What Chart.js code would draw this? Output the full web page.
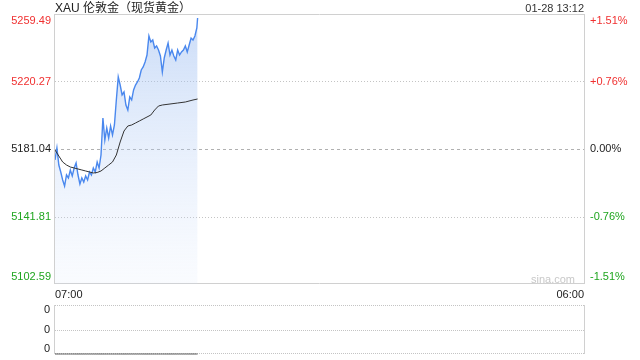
<!DOCTYPE html>
<html><head><meta charset="utf-8">
<script src="https://cdn.jsdelivr.net/npm/chart.js@4/dist/chart.umd.min.js"></script>
<style>
html,body{margin:0;padding:0;background:#fff;width:640px;height:360px;overflow:hidden;font-family:"Liberation Sans",Arial,"Noto Sans CJK SC",sans-serif;}
#wrap{position:relative;width:640px;height:360px;}
#main{position:absolute;left:0;top:0;}
#vol{position:absolute;left:0;top:300px;}
.txt{position:absolute;white-space:nowrap;}
</style></head><body>
<div id="wrap">
<canvas id="main" width="640" height="300"></canvas>
<canvas id="vol" width="640" height="60"></canvas>
<div class="txt" id="title" style="left:55px;top:1px;font-size:12px;line-height:14px;color:#222">XAU 伦敦金（现货黄金）</div>
<div class="txt" id="stamp" style="right:56px;top:1px;font-size:11px;line-height:14px;color:#333">01-28 13:12</div>
<div class="txt" id="wm" style="left:531px;top:273px;font-size:11px;line-height:12px;color:#c8c8c8">sina.com</div>
</div>
<script>
// ---- data (minutes since 07:00) ----
const times = [0,5,10,15,20,25,30,35,40,45,50,55,60,65,70,75,80,85,90,95,100,105,110,115,120,125,130,135,140,145,150,155,160,165,170,175,180,185,190,195,200,205,210,215,220,225,230,235,240,245,250,255,260,265,270,275,280,285,290,295,300,305,310,315,320,325,330,335,340,345,350,355,360,365,370,372];
const prices = [5174.65,5181.62,5171.74,5167.68,5163.03,5159.54,5165.93,5164.19,5168.84,5165.35,5170.00,5172.91,5165.93,5160.70,5164.19,5161.87,5165.35,5163.03,5167.68,5165.93,5170.00,5167.68,5173.49,5170.00,5177.55,5199.06,5186.27,5193.24,5187.43,5194.41,5189.18,5194.99,5209.52,5222.88,5218.23,5212.42,5214.16,5206.61,5203.70,5211.26,5209.52,5215.33,5218.23,5219.98,5222.30,5226.95,5228.69,5231.60,5235.66,5246.71,5243.22,5244.38,5239.73,5240.89,5238.57,5235.08,5225.79,5233.92,5238.57,5242.64,5235.66,5238.57,5235.08,5232.76,5238.57,5235.66,5237.41,5238.57,5240.89,5237.41,5241.48,5245.54,5244.38,5246.71,5251.36,5257.17];
const avgTimes = [0,10,20,30,40,50,60,70,80,90,100,110,120,130,140,150,160,170,180,190,200,210,220,230,240,250,260,270,280,300,320,340,360,372];
const avgPrices = [5180.46,5176.97,5173.49,5171.74,5170.58,5170.00,5169.42,5168.84,5168.26,5167.68,5167.10,5167.39,5168.26,5170.00,5171.74,5173.49,5177.55,5185.11,5191.50,5194.41,5194.99,5196.15,5197.31,5198.47,5199.64,5200.80,5203.70,5206.03,5206.61,5207.19,5207.77,5208.35,5209.52,5210.10];
const volumes = [0,0,0,0,0,0,0,0,0,0,0,0,0,0,0,0,0,0,0,0,0,0,0,0,0,0,0,0,0,0,0,0,0,0,0,0,0,0,0,0,0,0,0,0,0,0,0,0,0,0,0,0,0,0,0,0,0,0,0,0,0,0,0,0,0,0,0,0,0,0,0,0,0,0,0,0];
const priceTicks = [5102.59,5141.81,5181.04,5220.27,5259.49];
const priceLabels = ['5102.59','5141.81','5181.04','5220.27','5259.49'];
const pctLabels = ['-1.51%','-0.76%','0.00%','+0.76%','+1.51%'];
const xTicks = [0,1380];
const xLabels = ['07:00','06:00'];
const volTicks = [0,1,2];
const volLabels = ['0','0','0'];

const FONT = '"Liberation Sans", Arial, sans-serif';
const tickColors = ['#1fa51f','#1fa51f','#222','#f03030','#f03030'];

function edgeLabel(arr, i){
  const last = arr.length-1;
  if(i===last) return ['', arr[i]];
  if(i===0) return [arr[i], ''];
  return arr[i];
}
function noPad(s){ s.paddingTop=0; s.paddingBottom=0; s.paddingLeft=0; s.paddingRight=0; }

function hline(ctx, x1, x2, y, color, dash){
  ctx.save();
  ctx.beginPath();
  ctx.setLineDash(dash);
  ctx.strokeStyle = color; ctx.lineWidth = 1;
  const yy = Math.round(y)+0.5;
  ctx.moveTo(x1, yy); ctx.lineTo(x2, yy); ctx.stroke();
  ctx.restore();
}
function vline(ctx, x, y1, y2, color){
  ctx.save();
  ctx.beginPath();
  ctx.strokeStyle = color; ctx.lineWidth = 1;
  const xx = Math.round(x)-0.5;
  ctx.moveTo(xx, y1); ctx.lineTo(xx, y2); ctx.stroke();
  ctx.restore();
}

const mainGrid = {
  id:'mainGrid',
  beforeDatasetsDraw(chart){
    const {ctx, chartArea:a, scales} = chart;
    const ys = scales.y;
    hline(ctx, a.left, a.right, ys.getPixelForValue(priceTicks[1]), '#c4c4c4', [1,2]);
    hline(ctx, a.left, a.right, ys.getPixelForValue(priceTicks[3]), '#c4c4c4', [1,2]);
    hline(ctx, a.left, a.right, ys.getPixelForValue(priceTicks[2]), '#b0b0b0', [3,3]);
    hline(ctx, a.left, a.right, a.top, '#d0d0d0', []);
    hline(ctx, a.left, a.right, a.bottom-1, '#d0d0d0', []);
    vline(ctx, a.left, a.top, a.bottom, '#d0d0d0');
    vline(ctx, a.right+1, a.top, a.bottom, '#d0d0d0');
  }
};

const volGrid = {
  id:'volGrid',
  beforeDatasetsDraw(chart){
    const {ctx, chartArea:a, scales} = chart;
    const ys = scales.y;
    volTicks.forEach(v => hline(ctx, a.left, a.right, ys.getPixelForValue(v) - (v===0?1:0), '#c4c4c4', [1,1]));
    vline(ctx, a.left, a.top, a.bottom, '#d0d0d0');
    vline(ctx, a.right+1, a.top, a.bottom, '#d0d0d0');
  }
};

new Chart(document.getElementById('main'), {
  type:'line',
  data:{datasets:[
    {label:'均价', data: avgTimes.map((t,i)=>({x:t,y:avgPrices[i]})), borderColor:'#333', borderWidth:1, pointRadius:0, fill:false, tension:0, order:0},
    {label:'价格', data: times.map((t,i)=>({x:t,y:prices[i]})), borderColor:'#4a88ee', borderWidth:1.4, pointRadius:0, tension:0, fill:'start', order:1,
     backgroundColor:(c)=>{
       const a = c.chart.chartArea;
       if(!a) return 'rgba(150,185,240,0.4)';
       const g = c.chart.ctx.createLinearGradient(0,a.top,0,a.bottom);
       g.addColorStop(0,'rgba(150,185,240,0.5)');
       g.addColorStop(1,'rgba(210,225,250,0.12)');
       return g;
     }}
  ]},
  options:{
    responsive:false, animation:false, events:[],
    layout:{padding:{top:14,left:0,right:0,bottom:0}},
    plugins:{legend:{display:false}, tooltip:{enabled:false}},
    scales:{
      x:{type:'linear', min:0, max:1380,
        grid:{display:false, drawTicks:false}, border:{display:false},
        afterBuildTicks:s=>{s.ticks = xTicks.map(v=>({value:v}));},
        afterFit:s=>{s.height=16; noPad(s);},
        ticks:{autoSkip:false, maxRotation:0, align:'inner', padding:4, color:'#222', font:{size:11, family:FONT}, callback:(v,i)=>xLabels[i]}},
      y:{type:'linear', position:'left', min:priceTicks[0], max:priceTicks[priceTicks.length-1],
        grid:{display:false, drawTicks:false}, border:{display:false},
        afterBuildTicks:s=>{s.ticks = priceTicks.map(v=>({value:v}));},
        afterFit:s=>{s.width=55; noPad(s);},
        ticks:{autoSkip:false, padding:4, color:(c)=>tickColors[c.index], font:{size:11, family:FONT, lineHeight:1.3}, callback:(v,i)=>edgeLabel(priceLabels,i)}},
      y1:{type:'linear', position:'right', min:priceTicks[0], max:priceTicks[priceTicks.length-1],
        grid:{display:false, drawTicks:false}, border:{display:false},
        afterBuildTicks:s=>{s.ticks = priceTicks.map(v=>({value:v}));},
        afterFit:s=>{s.width=56; noPad(s);},
        ticks:{autoSkip:false, padding:6, color:(c)=>tickColors[c.index], font:{size:11, family:FONT, lineHeight:1.3}, callback:(v,i)=>edgeLabel(pctLabels,i)}}
    }
  },
  plugins:[mainGrid]
});

new Chart(document.getElementById('vol'), {
  type:'line',
  data:{datasets:[
    {label:'成交量', data: times.map((t,i)=>({x:t,y:volumes[i]})), borderColor:'#555', borderWidth:1, pointRadius:0, fill:false, clip:false}
  ]},
  options:{
    responsive:false, animation:false, events:[],
    layout:{padding:{top:5,left:0,right:56,bottom:6}},
    plugins:{legend:{display:false}, tooltip:{enabled:false}},
    scales:{
      x:{type:'linear', min:0, max:1380, display:false},
      y:{type:'linear', position:'left', min:volTicks[0], max:volTicks[volTicks.length-1],
        grid:{display:false, drawTicks:false}, border:{display:false},
        afterBuildTicks:s=>{s.ticks = volTicks.map(v=>({value:v}));},
        afterFit:s=>{s.width=55; noPad(s);},
        ticks:{autoSkip:false, padding:5, color:'#222', font:{size:11, family:FONT, lineHeight:0.9}, callback:(v,i)=>edgeLabel(volLabels,i)}}
    }
  },
  plugins:[volGrid]
});
</script>
</body></html>
